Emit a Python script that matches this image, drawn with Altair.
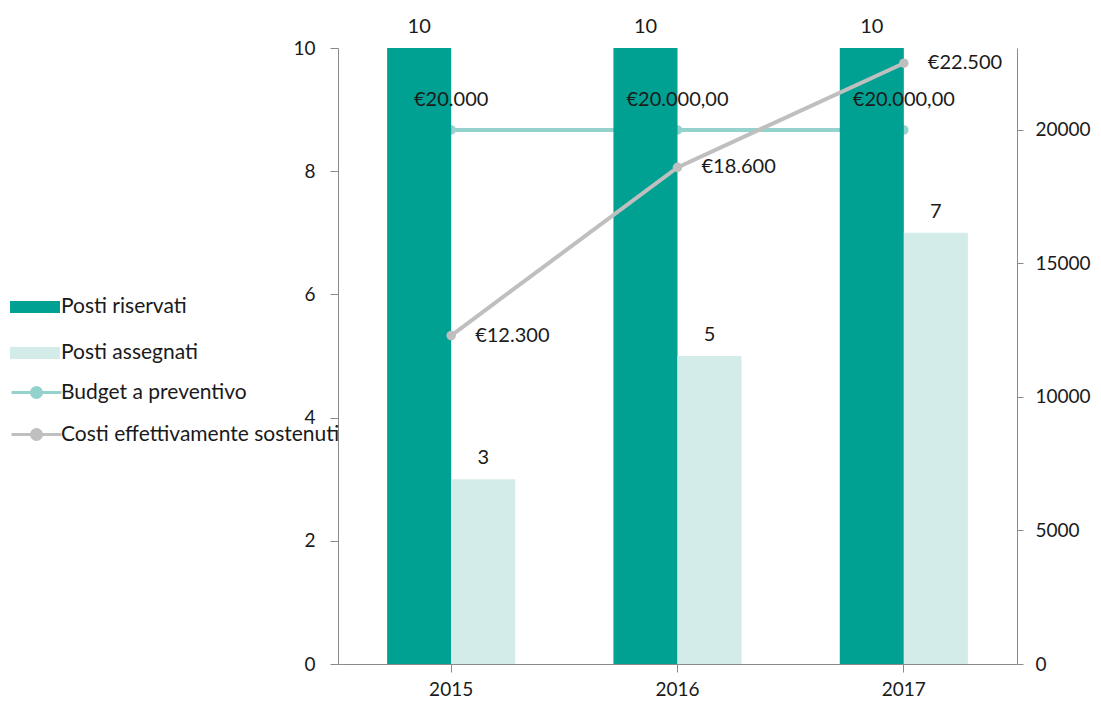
import altair as alt
import pandas as pd

years = ["2015", "2016", "2017"]
bar_series = ["Posti riservati", "Posti assegnati"]
posti_riservati = [10, 10, 10]
posti_assegnati = [3, 5, 7]
line_series = ["Budget a preventivo", "Costi effettivamente sostenuti"]
budget = [20000, 20000, 20000]
budget_labels = ["€20.000", "€20.000,00", "€20.000,00"]
costi = [12300, 18600, 22500]
costi_labels = ["€12.300", "€18.600", "€22.500"]

DARK = "#00a093"
LIGHT = "#d3ecea"
BUDGET_C = "#93d2cd"
COST_C = "#bfbfbf"
FONT = "Lato"
TXT = "#1a1a1a"
AX = "#8a8a8a"
NUM_FS = 20
AX_FS = 19
LEG_FS = 21

bars_df = pd.DataFrame(
    [{"year": y, "series": bar_series[0], "value": v} for y, v in zip(years, posti_riservati)]
    + [{"year": y, "series": bar_series[1], "value": v} for y, v in zip(years, posti_assegnati)]
)
lines_df = pd.DataFrame(
    [{"year": y, "series": line_series[0], "value": v, "label": l} for y, v, l in zip(years, budget, budget_labels)]
    + [{"year": y, "series": line_series[1], "value": v, "label": l} for y, v, l in zip(years, costi, costi_labels)]
)

RECT = "M-1.25,-0.3H1.25V0.3H-1.25Z"
LINESYM = "M-1.25,0H1.25M0.25,0A0.25,0.25,0,1,1,-0.25,0A0.25,0.25,0,1,1,0.25,0Z"

x_enc = alt.X(
    "year:N", sort=years, scale=alt.Scale(paddingInner=0.434, paddingOuter=0.217),
    axis=alt.Axis(orient="bottom", title=None, labelAngle=0, labelFontSize=AX_FS, labelFont=FONT,
                  labelColor=TXT, domainColor=AX, tickColor=AX, tickSize=8, labelPadding=8),
)
R_DOMAIN = [0, 23070]

right_axis = alt.Axis(orient="right", values=[0, 5000, 10000, 15000, 20000], format="d",
                      grid=False, domainColor=AX, tickColor=AX, tickSize=6,
                      labelFontSize=AX_FS, labelFont=FONT, labelColor=TXT, labelPadding=12)


def y_r(axis=None):
    return alt.Y("value:Q", scale=alt.Scale(domain=R_DOMAIN, nice=False), axis=axis, title=None)


def line_color(name, color, legend_y):
    return alt.Color(
        "series:N",
        scale=alt.Scale(domain=[name], range=[color]),
        legend=alt.Legend(title=None, orient="none", legendX=-323, legendY=legend_y,
                          symbolType=LINESYM, symbolSize=1600, symbolStrokeWidth=3,
                          symbolFillColor=color, symbolStrokeColor=color,
                          labelFontSize=LEG_FS, labelFont=FONT, labelColor=TXT,
                          labelOffset=3, labelLimit=500, padding=0),
    )


budget_base = alt.Chart(lines_df).transform_filter(alt.datum.series == "Budget a preventivo")
cost_base = alt.Chart(lines_df).transform_filter(alt.datum.series == "Costi effettivamente sostenuti")

budget_line = budget_base.mark_line(strokeWidth=4).encode(
    x=x_enc, y=y_r(right_axis), color=line_color("Budget a preventivo", BUDGET_C, 323))
budget_pts = budget_base.mark_circle(size=90, opacity=1, color=BUDGET_C).encode(x=x_enc, y=y_r())

bar_base = alt.Chart(bars_df)
y_bar_axis = alt.Axis(orient="left", values=[0, 2, 4, 6, 8, 10], grid=False,
                      domainColor=AX, tickColor=AX, tickSize=8,
                      labelFontSize=AX_FS, labelFont=FONT, labelColor=TXT, labelPadding=15)
xo = alt.XOffset("series:N", sort=bar_series, scale=alt.Scale(paddingInner=0, paddingOuter=0))
bars = bar_base.mark_bar().encode(
    x=x_enc, xOffset=xo,
    y=alt.Y("value:Q", scale=alt.Scale(domain=[0, 10], nice=False), title=None, axis=y_bar_axis),
    color=alt.Color("series:N", sort=bar_series,
                    scale=alt.Scale(domain=bar_series, range=[DARK, LIGHT]),
                    legend=alt.Legend(title=None, orient="none", legendX=-323, legendY=239,
                                      symbolType=RECT, symbolSize=1600, symbolStrokeWidth=0,
                                      labelFontSize=LEG_FS, labelFont=FONT, labelColor=TXT,
                                      labelOffset=6, labelLimit=500, rowPadding=16, padding=0)),
)
bar_text = bar_base.mark_text(font=FONT, fontSize=NUM_FS, color=TXT, dy=-21, baseline="middle").encode(
    x=x_enc, xOffset=xo,
    y=alt.Y("value:Q", scale=alt.Scale(domain=[0, 10], nice=False), title=None, axis=None),
    text="value:Q")

cost_line = cost_base.mark_line(strokeWidth=4).encode(
    x=x_enc, y=y_r(), color=line_color("Costi effettivamente sostenuti", COST_C, 365))
cost_pts = cost_base.mark_circle(size=90, opacity=1, color=COST_C).encode(x=x_enc, y=y_r())
cost_text = cost_base.mark_text(font=FONT, fontSize=NUM_FS, color=TXT, dx=24, align="left",
                                baseline="middle").encode(x=x_enc, y=y_r(), text="label:N")
budget_text = budget_base.mark_text(font=FONT, fontSize=NUM_FS, color=TXT, dy=-30, align="center",
                                    baseline="middle").encode(x=x_enc, y=y_r(), text="label:N")

chart = alt.layer(
    budget_line, budget_pts, bars, bar_text, cost_line, cost_pts, cost_text, budget_text
).resolve_scale(
    y="independent", color="independent"
).properties(
    width=679, height=616,
    autosize=alt.AutoSizeParams(type="none"),
    padding={"left": 330, "top": 40, "right": 76, "bottom": 34},
).configure_view(stroke=None)

chart.save("out.html", embed_options={"renderer": "svg", "actions": False})
